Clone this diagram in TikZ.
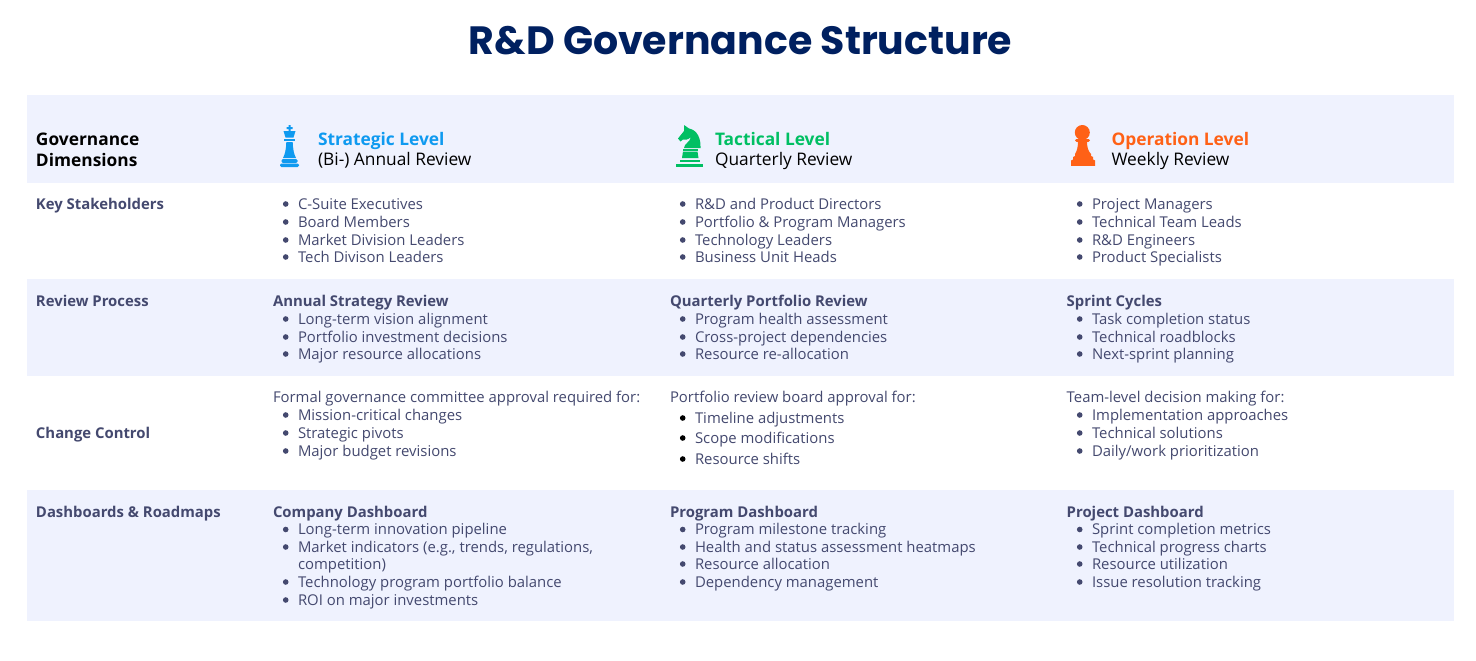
\documentclass[tikz,border=0pt]{standalone}
\usepackage{fontspec}
\setmainfont{Open Sans}
\newfontfamily\titlefont{Poppins}
\definecolor{band}{HTML}{EFF2FE}
\definecolor{titlecol}{HTML}{002060}
\definecolor{bodycol}{HTML}{44496F}
\definecolor{stratcol}{HTML}{0F9AF0}
\definecolor{taccol}{HTML}{00BF63}
\definecolor{opcol}{HTML}{FF6116}
\tikzset{
 x=0.75pt,y=-0.75pt,
 txt/.style={anchor=base west,inner sep=0pt,outer sep=0pt,font=\fontsize{11.16pt}{13pt}\selectfont,text=bodycol},
 bold/.style={txt,font=\fontsize{11.16pt}{13pt}\selectfont\bfseries},
 head/.style={txt,font=\fontsize{13pt}{15pt}\selectfont,text=black},
 headb/.style={txt,font=\fontsize{13pt}{15pt}\selectfont\bfseries},
 dot/.style={circle,fill=bodycol,minimum size=4.2pt,inner sep=0pt,outer sep=0pt},
 dotk/.style={dot,fill=black},
}
\newcommand{\bl}[4][dot]{% style, name, x+y, text
 \node[#1] (d#2) at ($(#3)+(-12.3,-5)$) {};
 \node[txt] (#2) at (#3) {#4};}
\usetikzlibrary{calc}
\begin{document}
\begin{tikzpicture}
\useasboundingbox (0,0) rectangle (1476,660);
\fill[white] (0,0) rectangle (1476,660);
\fill[band] (27,95) rectangle (1454,183);
\fill[band] (27,279) rectangle (1454,376);
\fill[band] (27,490) rectangle (1454,621);
\node[anchor=base,inner sep=0pt,font=\titlefont\fontsize{29.6pt}{36pt}\selectfont\bfseries,text=titlecol] (title) at (740.5,54.5) {R\&D Governance Structure};
% header
\node[headb,text=black] (g1) at (36,145) {Governance};
\node[headb,text=black] (g2) at (36,166) {Dimensions};
\node[headb,text=stratcol] (s1) at (318,145) {Strategic Level};
\node[head] (s2) at (318,165) {(Bi-) Annual Review};
\node[headb,text=taccol] (t1) at (715,145) {Tactical Level};
\node[head] (t2) at (715,165) {Quarterly Review};
\node[headb,text=opcol] (o1) at (1111.5,145) {Operation Level};
\node[head] (o2) at (1111.5,165) {Weekly Review};
% king
\fill[stratcol] (288.5,125) rectangle (290.5,131.5) (286.5,127) rectangle (292.5,129);
\fill[stratcol] (283.5,131) -- (295.5,131) -- (293.5,137.5) -- (285.5,137.5) -- cycle;
\fill[stratcol] (284,138.7) rectangle (295,141);
\fill[stratcol] (286.3,142) -- (292.7,142) .. controls (293,150) and (294,154) .. (296,158) -- (283,158) .. controls (285,154) and (286,150) .. (286.3,142) -- cycle;
\fill[stratcol,rounded corners=1pt] (281.5,159) rectangle (297.5,163);
\fill[stratcol,rounded corners=1pt] (280,163.5) rectangle (299,167);
% knight
\fill[taccol] (684,125) -- (689,128.5) .. controls (697,130) and (701,138) .. (700.5,148) -- (684,148) .. controls (684,144) and (690,142) .. (691,137) .. controls (688,140) and (685,140) .. (683,139.5) -- (680.5,141.5) -- (678,138.5) -- (684,131) -- cycle;
\fill[taccol] (683,148.7) rectangle (697.5,150.5);
\fill[taccol] (683,151.5) -- (697.5,151.5) -- (698.5,158) -- (682,158) -- cycle;
\fill[taccol] (680,160) rectangle (700,162);
\fill[taccol] (676,164.3) rectangle (703,166.8);
% pawn
\fill[opcol] (1082.3,132.5) circle[radius=7.5];
\fill[opcol,rounded corners=1pt] (1075,139) rectangle (1090,141.8);
\fill[opcol] (1078,141) -- (1087,141) .. controls (1087,147) and (1088,151) .. (1091,154) -- (1091,156) -- (1093,157) -- (1093,159.5) -- (1095,160.5) -- (1095,165.8) -- (1071,165.8) -- (1071,160.5) -- (1073,159.5) -- (1073,157) -- (1075,156) -- (1075,154) .. controls (1077,151) and (1078,147) .. (1078,141) -- cycle;
% row labels
\node[bold] (r1) at (36,209) {Key Stakeholders};
\node[bold] (r2) at (36,306) {Review Process};
\node[bold] (r3) at (36,438.5) {Change Control};
\node[bold] (r4) at (36,517) {Dashboards \& Roadmaps};
% stakeholders
\bl{a1}{298,209}{C-Suite Executives}
\bl{a2}{298,227}{Board Members}
\bl{a3}{298,245}{Market Division Leaders}
\bl{a4}{298,262}{Tech Divison Leaders}
\bl{a5}{695,209}{R\&D and Product Directors}
\bl{a6}{695,227}{Portfolio \& Program Managers}
\bl{a7}{695,245}{Technology Leaders}
\bl{a8}{695,262}{Business Unit Heads}
\bl{a9}{1092,209}{Project Managers}
\bl{a10}{1092,227}{Technical Team Leads}
\bl{a11}{1092,245}{R\&D Engineers}
\bl{a12}{1092,262}{Product Specialists}
% review
\node[bold] (b0) at (273,306) {Annual Strategy Review};
\bl{b1}{298,324}{Long-term vision alignment}
\bl{b2}{298,342}{Portfolio investment decisions}
\bl{b3}{298,359}{Major resource allocations}
\node[bold] (b4) at (670,306) {Quarterly Portfolio Review};
\bl{b5}{695,324}{Program health assessment}
\bl{b6}{695,342}{Cross-project dependencies}
\bl{b7}{695,359}{Resource re-allocation}
\node[bold] (b8) at (1066.7,306) {Sprint Cycles};
\bl{b9}{1092,324}{Task completion status}
\bl{b10}{1092,342}{Technical roadblocks}
\bl{b11}{1092,359}{Next-sprint planning}
% change control
\node[txt] (c0) at (273,402) {Formal governance committee approval required for:};
\bl{c1}{298,420}{Mission-critical changes}
\bl{c2}{298,438}{Strategic pivots}
\bl{c3}{298,456}{Major budget revisions}
\node[txt] (c4) at (670,402) {Portfolio review board approval for:};
\bl[dotk]{c5}{695,423}{Timeline adjustments}
\bl[dotk]{c6}{695,443}{Scope modifications}
\bl[dotk]{c7}{695,464}{Resource shifts}
\node[txt] (c8) at (1066.7,402) {Team-level decision making for:};
\bl{c9}{1092,420}{Implementation approaches}
\bl{c10}{1092,438}{Technical solutions}
\bl{c11}{1092,456}{Daily/work prioritization}
% dashboards
\node[bold] (e0) at (273,517) {Company Dashboard};
\bl{e1}{298,534.5}{Long-term innovation pipeline}
\bl{e2}{298,552}{Market indicators (e.g., trends, regulations,}
\node[txt] (e2b) at (298,569.5) {competition)};
\bl{e3}{298,587}{Technology program portfolio balance}
\bl{e4}{298,605}{ROI on major investments}
\node[bold] (e5) at (670,517) {Program Dashboard};
\bl{e6}{695,534.5}{Program milestone tracking}
\bl{e7}{695,552}{Health and status assessment heatmaps}
\bl{e8}{695,569}{Resource allocation}
\bl{e9}{695,587}{Dependency management}
\node[bold] (e10) at (1066.7,517) {Project Dashboard};
\bl{e11}{1092,534.5}{Sprint completion metrics}
\bl{e12}{1092,552}{Technical progress charts}
\bl{e13}{1092,569}{Resource utilization}
\bl{e14}{1092,587}{Issue resolution tracking}
\end{tikzpicture}
\end{document}
